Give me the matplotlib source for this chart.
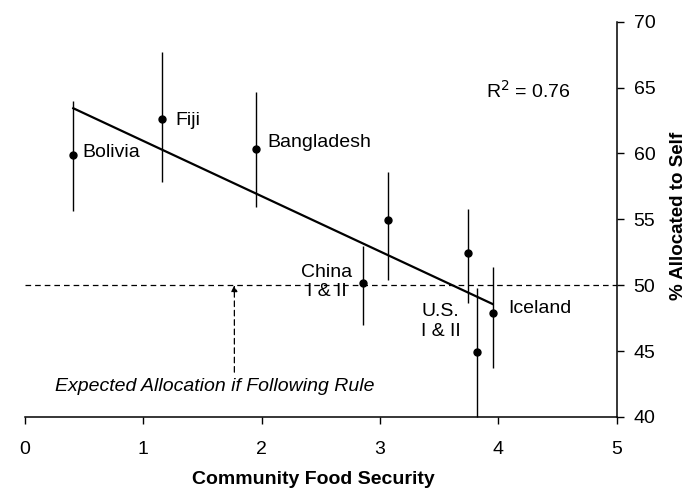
"""
Share allocated to self vs. community food security, by site.
"""

import matplotlib
matplotlib.use("Agg")
import matplotlib.pyplot as plt
import numpy as np

plt.rcParams['font.family'] = ['Liberation Sans', 'DejaVu Sans']

# site means with error bar ends
sites = ['Bolivia', 'Fiji', 'Bangladesh', 'China', 'China', 'U.S.', 'U.S.', 'Iceland']
food_security = np.array([0.41, 1.16, 1.95, 2.86, 3.07, 3.74, 3.82, 3.95])
pct_self = np.array([59.9, 62.65, 60.3, 50.2, 54.95, 52.45, 44.9, 47.9])
bar_low = np.array([55.6, 57.8, 55.9, 47.0, 50.4, 48.65, 40.0, 43.75])
bar_high = np.array([63.95, 67.7, 64.7, 53.0, 58.6, 55.8, 49.8, 51.4])

r_squared = 0.76
rule_value = 50

x_ticks = [0, 1, 2, 3, 4, 5]
y_ticks = [40, 45, 50, 55, 60, 65, 70]

# site labels: text, x, y, horizontal alignment
labels = [
    ('Bolivia', 0.49, 60.05, 'left'),
    ('Fiji', 1.27, 62.5, 'left'),
    ('Bangladesh', 2.05, 60.86, 'left'),
    ('China\nI & II', 2.55, 50.23, 'center'),
    ('U.S.\nI & II', 3.51, 47.26, 'center'),
    ('Iceland', 4.08, 48.23, 'left'),
]


def main():
    fig = plt.figure(figsize=(6.87, 4.95), dpi=100)
    ax = fig.add_axes([0.036, 0.1576, 0.862, 0.7986])

    # rule line at 50%
    ax.axhline(rule_value, color='black', lw=0.9, dashes=(4.5, 3.2), zorder=1)

    ax.errorbar(food_security, pct_self,
                yerr=[pct_self - bar_low, bar_high - pct_self],
                fmt='o', color='black', ms=5, elinewidth=1.0, capsize=0,
                zorder=3, clip_on=False)

    # least squares fit across the sites
    slope, intercept = np.polyfit(food_security, pct_self, 1)
    fx = np.array([food_security.min(), food_security.max()])
    ax.plot(fx, intercept + slope * fx, color='black', lw=1.6, zorder=2)

    for text, lx, ly, ha in labels:
        ax.text(lx, ly, text, ha=ha, va='center', fontsize=14, linespacing=1.2)

    ax.text(3.896, 64.72, f'R$^2$ = {r_squared:.2f}', ha='left', va='center', fontsize=14)

    # arrow pointing at the rule line
    ax.annotate('', xy=(1.77, rule_value), xytext=(1.77, 43.4),
                arrowprops=dict(arrowstyle='-|>', color='black', lw=0.9,
                                linestyle=(0, (4.5, 3)), mutation_scale=9,
                                shrinkA=0, shrinkB=0))
    ax.text(1.605, 42.3, 'Expected Allocation if Following Rule',
            ha='center', va='center', fontsize=14, style='italic')

    ax.set_xlim(0, 5)
    ax.set_ylim(40, 70)
    ax.set_xticks(x_ticks)
    ax.set_yticks(y_ticks)

    ax.spines['left'].set_visible(False)
    ax.spines['top'].set_visible(False)
    ax.spines['right'].set_linewidth(1.1)
    ax.spines['bottom'].set_linewidth(1.1)
    ax.yaxis.tick_right()
    ax.yaxis.set_label_position('right')
    ax.tick_params(axis='y', direction='out', length=5, width=1, pad=7, labelsize=14)
    ax.tick_params(axis='x', direction='out', length=5, width=1, pad=12, labelsize=14)

    ax.set_xlabel('Community Food Security', fontsize=14, fontweight='bold')
    ax.xaxis.set_label_coords(0.4875, -0.159)
    ax.xaxis.label.set_va('center')
    ax.set_ylabel('% Allocated to Self', fontsize=13.5, fontweight='bold', rotation=90)
    ax.yaxis.set_label_coords(1.1036, 0.509)
    ax.yaxis.label.set_va('center')

    fig.savefig('out.png', dpi=100)


if __name__ == '__main__':
    main()
